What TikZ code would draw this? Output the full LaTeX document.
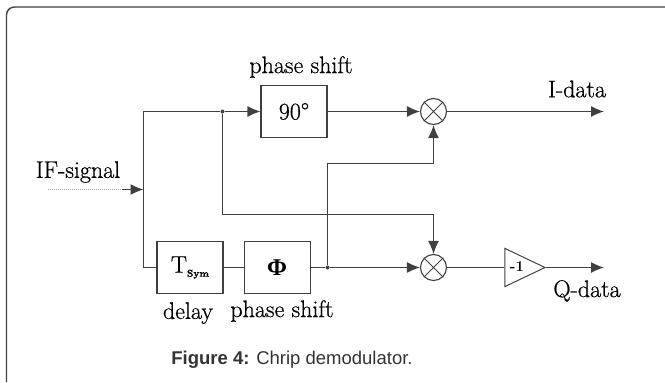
\documentclass[tikz,border=0pt]{standalone}
\usepackage{xcolor}
\usepackage{fontspec}
\newfontfamily\captionFont{Liberation Sans}
\newfontfamily\greekFont{Liberation Serif}
\newfontfamily\diagramFont{Latin Modern Roman}[FakeBold=0.7]
\colorlet{LINECOLOR}{black!75}
\colorlet{FRAMECOLOR}{black!75}
\colorlet{CAPTIONCOLOR}{black!80}
\usetikzlibrary{shapes,arrows.meta,positioning,calc}
\tikzset{
  block-style/.style = {
    rectangle, draw=LINECOLOR, line width=1.1pt,
    minimum height=52pt,
    minimum width=66pt,
    inner sep=1pt,
    font=\blockFont
  },
  mixer-style/.style = {
    cross out, draw=LINECOLOR, line width=0.9pt,
    minimum size=18.5pt,
    inner sep=0pt
  },
  ring-style/.style = {
    circle, draw=LINECOLOR, line width=1.1pt,
    minimum size=26pt,
    inner sep=0pt
  },
  gain-style/.style = {
    isosceles triangle, isosceles triangle apex angle=51,
    draw=LINECOLOR, line width=1pt,
    minimum width=38pt,
    minimum height=40pt,
    inner sep=0pt
  },
  label-style/.style = {
    inner sep=0pt, font=\blockFont
  },
  wire-style/.style = {
    draw=LINECOLOR, line width=1.1pt
  },
  flow-style/.style = {
    wire-style, -{Latex[length=13pt,width=11pt]}
  },
  faint-style/.style = {
    draw=black!35, line width=1pt, densely dotted
  },
  dot-style/.style = {
    circle, fill=LINECOLOR, minimum size=4pt, inner sep=0pt
  }
}
\newcommand\blockFont{\diagramFont\fontsize{24}{28}\selectfont}
\begin{document}
\begin{tikzpicture}[x=1pt,y=-1pt]
  \useasboundingbox (0,0) rectangle (665,383);
  % frame
  \draw[FRAMECOLOR,line width=1.4pt,rounded corners=8pt] (666,7) -- (6.5,7) -- (6.5,382);

  % blocks
  \node[block-style] (shift) at (294,111.5) {90°};
  \node[block-style] (delay) at (190,267.5) {T\raisebox{-4pt}{\fontsize{10}{10}\selectfont\bfseries Sym}};
  \node[block-style, right=20pt of delay] (phi) {\greekFont\bfseries Φ};
  \node[ring-style] (mixI) at (433.5,111.5) {};
  \node[ring-style] (mixQ) at (433.5,267.5) {};
  \node[mixer-style] (crossI) at (mixI) {};
  \node[mixer-style] (crossQ) at (mixQ) {};
  \node[gain-style] (gain) at (517,267.5) {};
  \node[font=\fontsize{15}{15}\selectfont\bfseries] (gainText) at (517,267) {-1};

  % labels
  \node[label-style] (shiftText) at (301,67) {phase shift};
  \node[label-style] (delayText) at (188,313) {delay};
  \node[label-style] (phiText) at (282,311) {phase shift};
  \node[label-style] (ifText) at (78,172) {IF-signal};
  \node[label-style] (iText) at (577,89) {I-data};
  \node[label-style] (qText) at (587,291) {Q-data};
  \node[inner sep=0pt, text=CAPTIONCOLOR] (caption) at (292,360)
    {\captionFont\fontsize{18.5}{22}\selectfont\textbf{Figure 4:} Chrip demodulator.};

  % junctions
  \coordinate (corner) at (143.5,111.5);
  \coordinate (input) at (48,189.5);
  \coordinate (fade) at (122,189.5);
  \coordinate (tap) at (143.5,189.5);
  \coordinate (turnI) at (433.5,163.5);
  \coordinate (turnQ) at (433.5,214.5);
  \coordinate (outI) at (604,111.5);
  \coordinate (outQ) at (604,267.5);
  \node[dot-style] (splitI) at (222.5,111.5) {};
  \node[dot-style] (splitQ) at (327.5,267.5) {};

  % connectors
  \draw[wire-style] (delay.west) -| (corner) -- (splitI);
  \draw[flow-style] (splitI) -- (shift.west);
  \draw[faint-style] (input) -- (fade);
  \draw[flow-style] (fade) -- (tap);
  \draw[wire-style] (delay) -- (phi);
  \draw[wire-style] (phi.east) -- (splitQ);
  \draw[flow-style] (shift.east) -- (mixI.west);
  \draw[flow-style] (splitQ) -- (mixQ.west);
  \draw[flow-style] (splitQ) |- (turnI) -- (mixI.south);
  \draw[flow-style] (splitI) |- (turnQ) -- (mixQ.north);
  \draw[flow-style] (mixI.east) -- (outI);
  \draw[wire-style] (mixQ.east) -- (gain.west);
  \draw[flow-style] (gain.east) -- (outQ);
\end{tikzpicture}
\end{document}
